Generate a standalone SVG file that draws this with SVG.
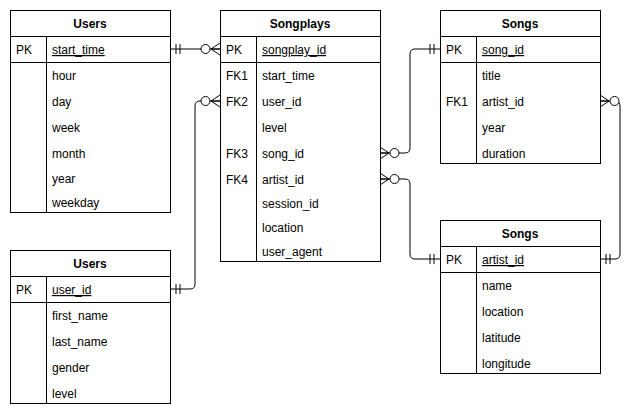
<svg xmlns="http://www.w3.org/2000/svg" width="642" height="418" viewBox="0 0 642 418">
<style>
.box{fill:#fff;stroke:#000;stroke-width:1}
.ln{stroke:#000;stroke-width:1;fill:none}
text{font-family:"Liberation Sans",Arial,sans-serif;font-size:12px;fill:#000}
.h{font-weight:bold;text-anchor:middle}
.u{text-decoration:underline}
.c{fill:none;stroke:#000;stroke-width:1}
</style>
<defs>
<marker id="one" markerUnits="userSpaceOnUse" viewBox="-22 -8 24 16" markerWidth="24" markerHeight="16" refX="0" refY="0" orient="auto-start-reverse" overflow="visible">
<path d="M-6,-5V5M-10,-5V5" stroke="#000" stroke-width="1" fill="none"/>
</marker>
<marker id="many" markerUnits="userSpaceOnUse" viewBox="-22 -8 24 16" markerWidth="24" markerHeight="16" refX="0" refY="0" orient="auto-start-reverse" overflow="visible">
<path d="M-9,0L0,-6M-9,0L0,0M-9,0L0,6" stroke="#000" stroke-width="1" fill="none"/>
<circle cx="-14.5" cy="0" r="4.5" fill="#fff" stroke="#000" stroke-width="1"/>
</marker>
</defs>

<g id="connectors">
<path class="c" d="M170,49H220" marker-start="url(#one)" marker-end="url(#many)"/>
<path class="c" d="M170,289H190Q195,289 195,284V106Q195,101 200,101H220" marker-start="url(#one)" marker-end="url(#many)"/>
<path class="c" d="M380,153H405Q410,153 410,148V54Q410,49 415,49H440" marker-start="url(#many)" marker-end="url(#one)"/>
<path class="c" d="M380,179H405Q410,179 410,184V254Q410,259 415,259H440" marker-start="url(#many)" marker-end="url(#one)"/>
<path class="c" d="M600,101H615Q620,101 620,106V254Q620,259 615,259H600" marker-start="url(#many)" marker-end="url(#one)"/>
</g>

<g id="users_time">
<rect class="box" x="10.5" y="10.5" width="160" height="202"/>
<path class="ln" d="M10.5,36.5H170.5M10.5,62.5H170.5M46.5,36.5V212.5"/>
<text class="h" x="90" y="28">Users</text>
<text x="16" y="54">PK</text>
<text x="52" y="54" class="u">start_time</text>
<text x="52" y="80">hour</text>
<text x="52" y="106">day</text>
<text x="52" y="132">week</text>
<text x="52" y="158">month</text>
<text x="52" y="183">year</text>
<text x="52" y="207">weekday</text>
</g>

<g id="songplays">
<rect class="box" x="220.5" y="10.5" width="160" height="251"/>
<path class="ln" d="M220.5,36.5H380.5M220.5,62.5H380.5M256.5,36.5V261.5"/>
<text class="h" x="300" y="28">Songplays</text>
<text x="226" y="54">PK</text>
<text x="262" y="54" class="u">songplay_id</text>
<text x="226" y="80">FK1</text>
<text x="262" y="80">start_time</text>
<text x="226" y="106">FK2</text>
<text x="262" y="106">user_id</text>
<text x="262" y="132">level</text>
<text x="226" y="158">FK3</text>
<text x="262" y="158">song_id</text>
<text x="226" y="184">FK4</text>
<text x="262" y="184">artist_id</text>
<text x="262" y="208">session_id</text>
<text x="262" y="232">location</text>
<text x="262" y="256">user_agent</text>
</g>

<g id="songs">
<rect class="box" x="440.5" y="10.5" width="160" height="153"/>
<path class="ln" d="M440.5,36.5H600.5M440.5,62.5H600.5M476.5,36.5V163.5"/>
<text class="h" x="520" y="28">Songs</text>
<text x="446" y="54">PK</text>
<text x="482" y="54" class="u">song_id</text>
<text x="482" y="80">title</text>
<text x="446" y="106">FK1</text>
<text x="482" y="106">artist_id</text>
<text x="482" y="132">year</text>
<text x="482" y="158">duration</text>
</g>

<g id="artists">
<rect class="box" x="440.5" y="220.5" width="160" height="153"/>
<path class="ln" d="M440.5,246.5H600.5M440.5,272.5H600.5M476.5,246.5V373.5"/>
<text class="h" x="520" y="238">Songs</text>
<text x="446" y="264">PK</text>
<text x="482" y="264" class="u">artist_id</text>
<text x="482" y="290">name</text>
<text x="482" y="316">location</text>
<text x="482" y="342">latitude</text>
<text x="482" y="368">longitude</text>
</g>

<g id="users">
<rect class="box" x="10.5" y="250.5" width="160" height="153"/>
<path class="ln" d="M10.5,276.5H170.5M10.5,302.5H170.5M46.5,276.5V403.5"/>
<text class="h" x="90" y="268">Users</text>
<text x="16" y="294">PK</text>
<text x="52" y="294" class="u">user_id</text>
<text x="52" y="320">first_name</text>
<text x="52" y="346">last_name</text>
<text x="52" y="372">gender</text>
<text x="52" y="398">level</text>
</g>
</svg>
